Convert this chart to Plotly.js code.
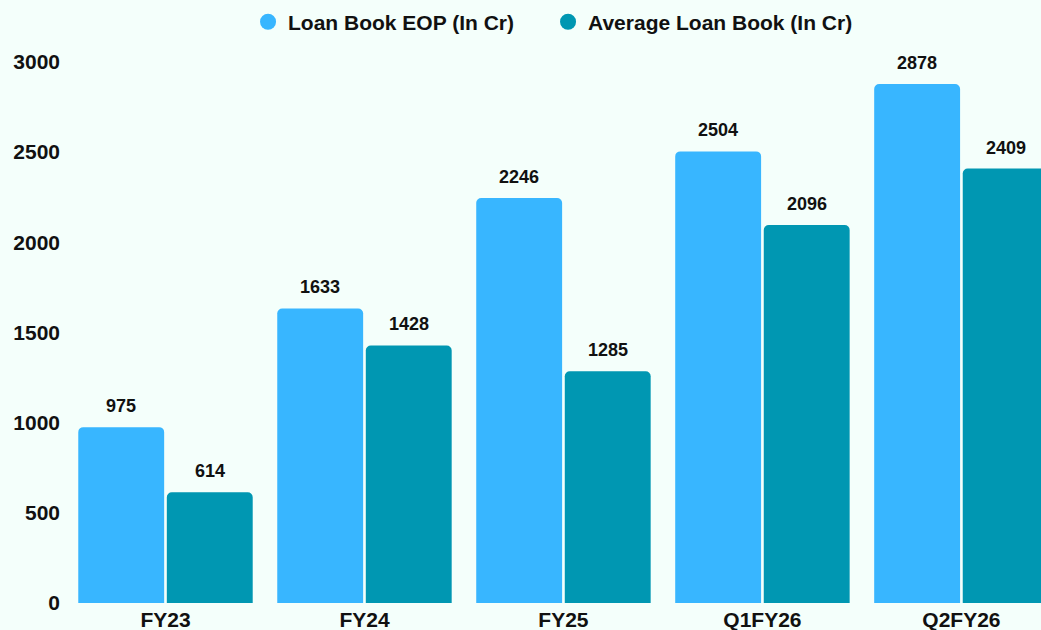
<!DOCTYPE html>
<html>
<head>
<meta charset="utf-8">
<script src="https://cdn.plot.ly/plotly-3.0.1.min.js"></script>
<style>
html,body{margin:0;padding:0;background:#f4fffb;}
#chart{width:1041px;height:630px;}
</style>
</head>
<body>
<div id="chart"></div>
<script>
const categories = ["FY23", "FY24", "FY25", "Q1FY26", "Q2FY26"];
const loanBookEOP = [975, 1633, 2246, 2504, 2878];
const avgLoanBook = [614, 1428, 1285, 2096, 2409];
const seriesNames = ["Loan Book EOP (In Cr)", "Average Loan Book (In Cr)"];
const colors = ["#38b6ff", "#0097b2"];

const font = {family: "Liberation Sans, Arial, sans-serif", color: "#111111", weight: "bold"};
const f = (size) => Object.assign({size: size}, font);

const bargap = 0.11;
const traces = [
  {type: "bar", x: categories, y: loanBookEOP, name: seriesNames[0], marker: {color: colors[0]},
   showlegend: false, hoverinfo: "x+y"},
  {type: "bar", x: categories, y: avgLoanBook, name: seriesNames[1], marker: {color: colors[1]},
   showlegend: false, hoverinfo: "x+y"},
  {type: "scatter", mode: "markers", x: [null], y: [null], name: seriesNames[0], legend: "legend",
   marker: {color: colors[0], size: 21, symbol: "circle"}},
  {type: "scatter", mode: "markers", x: [null], y: [null], name: seriesNames[1], legend: "legend2",
   marker: {color: colors[1], size: 21, symbol: "circle"}}
];

// value labels above bars, placed in data coordinates from the arrays
const off = (1 - bargap) / 4;
const annotations = [];
[loanBookEOP, avgLoanBook].forEach((vals, s) => {
  vals.forEach((v, i) => {
    annotations.push({x: i + (s === 0 ? -off : off), y: v, xref: "x", yref: "y",
      text: String(v), showarrow: false, yanchor: "bottom", yshift: 9, font: f(18)});
  });
});

const legendBase = {orientation: "h", xref: "paper", xanchor: "left", y: 1.041, yanchor: "middle",
  font: f(21), itemwidth: 30, bgcolor: "rgba(0,0,0,0)"};

const layout = {
  width: 1041, height: 630,
  paper_bgcolor: "#f4fffb", plot_bgcolor: "#f4fffb",
  margin: {l: 66, r: 0, t: 45, b: 27, autoexpand: false},
  barmode: "group", bargap: bargap, bargroupgap: 0.03, barcornerradius: 5,
  font: f(21),
  showlegend: true,
  legend: Object.assign({x: 0.1867}, legendBase),
  legend2: Object.assign({x: 0.4944}, legendBase),
  annotations: annotations,
  xaxis: {type: "category", range: [-0.5, 4.4], showgrid: false, zeroline: false,
          showline: false, ticks: "", tickfont: f(21), ticklabelstandoff: 2, fixedrange: true},
  yaxis: {range: [0, 3094], tickvals: [0, 500, 1000, 1500, 2000, 2500, 3000],
          showgrid: false, zeroline: false, showline: false, ticks: "",
          ticklabelstandoff: 5, tickfont: f(21), fixedrange: true}
};

Plotly.newPlot("chart", traces, layout, {displayModeBar: false, staticPlot: true});
</script>
</body>
</html>
